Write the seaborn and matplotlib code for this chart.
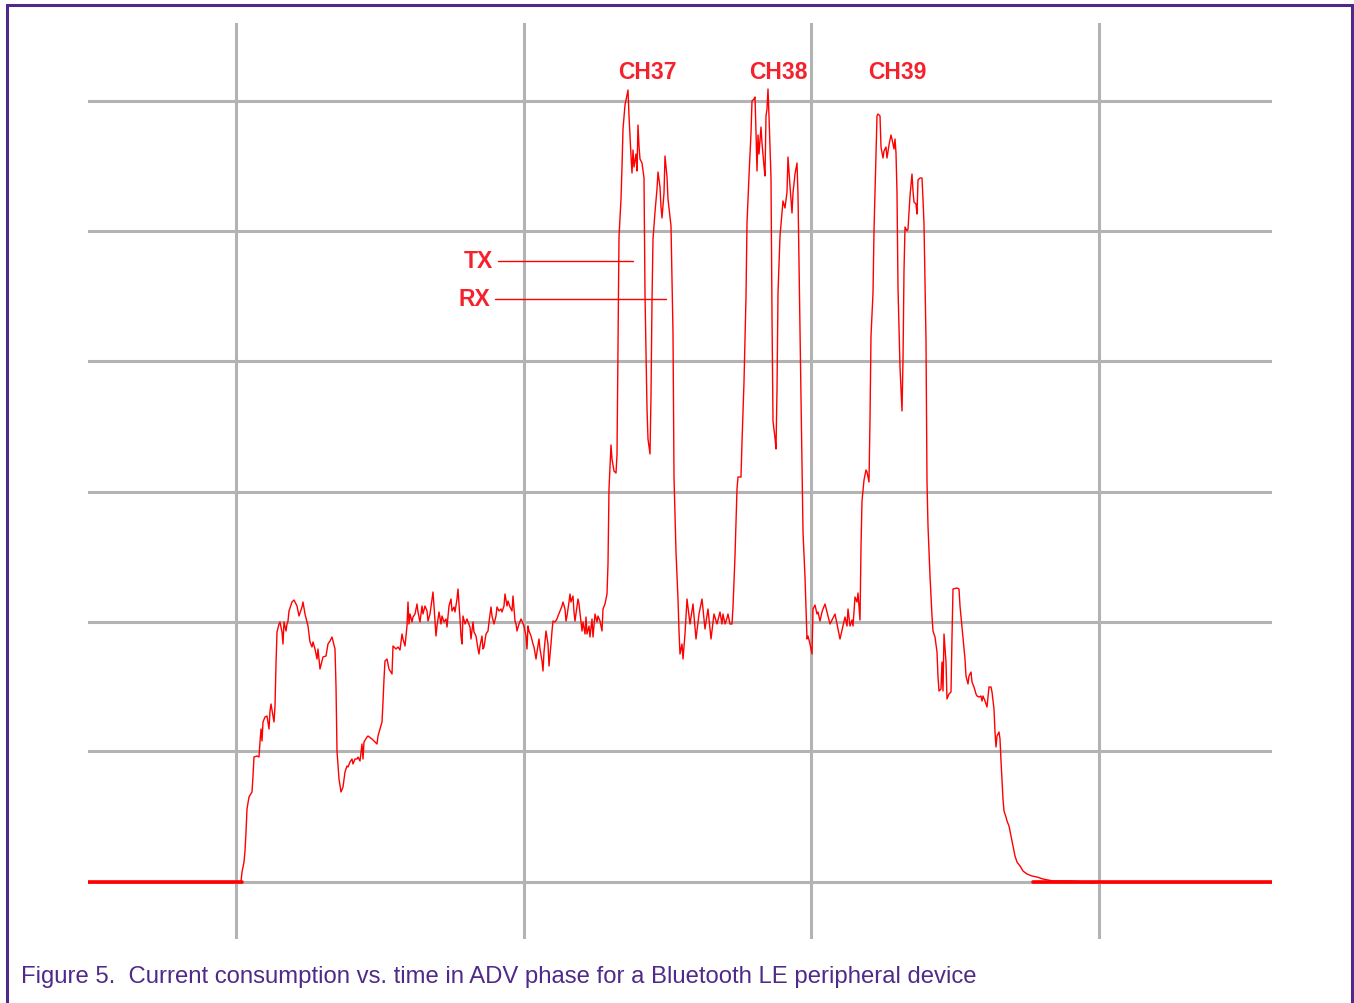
import matplotlib
matplotlib.use("Agg")
import matplotlib.pyplot as plt
import pandas as pd
import seaborn as sns
from matplotlib.patches import Rectangle

# time in samples, current in ADC counts (baseline = 0)
time_samples = [
    0, 153, 154, 156, 157, 158, 159, 161, 164, 165, 166, 169, 171, 172, 173, 174, 175, 177, 179, 181,
    182, 183, 185, 186, 187, 188, 189, 191, 192, 194, 195, 196, 198, 199, 200, 201, 204, 206, 209, 211,
    214, 215, 217, 219, 220, 222, 224, 225, 227, 229, 230, 232, 234, 235, 238, 240, 242, 244, 245, 247,
    248, 249, 251, 253, 255, 257, 259, 260, 262, 264, 265, 267, 269, 270, 272, 274, 275, 276, 279, 280,
    284, 287, 289, 290, 292, 294, 295, 296, 297, 299, 301, 304, 305, 308, 310, 312, 314, 315, 317, 319,
    320, 321, 322, 324, 325, 327, 329, 330, 332, 334, 335, 337, 339, 340, 342, 344, 345, 346, 348, 349,
    351, 353, 354, 356, 358, 359, 361, 363, 364, 366, 367, 369, 370, 371, 372, 373, 374, 375, 377, 379,
    380, 382, 383, 385, 386, 388, 390, 391, 392, 394, 395, 396, 398, 400, 401, 403, 404, 406, 408, 409,
    411, 413, 414, 416, 417, 419, 420, 422, 424, 425, 427, 428, 429, 431, 433, 434, 436, 438, 439, 440,
    441, 443, 445, 446, 448, 449, 451, 452, 454, 455, 456, 457, 458, 460, 461, 463, 464, 465, 467, 469,
    470, 472, 474, 475, 477, 478, 479, 481, 482, 483, 485, 486, 487, 489, 490, 491, 493, 494, 495, 497,
    498, 499, 501, 502, 504, 505, 507, 509, 510, 512, 514, 515, 517, 519, 520, 521, 523, 524, 526, 528,
    529, 530, 531, 533, 534, 535, 537, 539, 540, 541, 543, 544, 545, 546, 548, 549, 550, 551, 552, 554,
    556, 557, 559, 560, 562, 563, 564, 565, 567, 569, 570, 572, 573, 574, 576, 577, 579, 580, 583, 585,
    586, 588, 590, 591, 592, 594, 595, 597, 599, 602, 605, 608, 611, 614, 617, 620, 623, 626, 629, 632,
    634, 635, 637, 639, 640, 642, 644, 645, 647, 649, 650, 653, 654, 656, 658, 659, 661, 663, 664, 666,
    667, 668, 669, 670, 671, 673, 674, 676, 677, 678, 679, 680, 681, 683, 684, 685, 687, 688, 689, 690,
    692, 694, 695, 697, 699, 700, 702, 704, 705, 707, 709, 710, 712, 714, 715, 717, 719, 720, 722, 724,
    725, 727, 729, 730, 732, 734, 735, 737, 742, 747, 752, 757, 759, 760, 762, 764, 765, 767, 769, 770,
    772, 773, 774, 776, 778, 779, 781, 782, 783, 785, 786, 788, 789, 790, 792, 793, 795, 796, 798, 799,
    801, 803, 804, 806, 807, 808, 809, 810, 812, 814, 815, 816, 817, 819, 820, 822, 824, 825, 826, 828,
    829, 830, 832, 834, 835, 836, 838, 839, 840, 842, 844, 845, 847, 849, 850, 851, 853, 854, 855, 856,
    858, 859, 861, 863, 864, 865, 869, 871, 872, 874, 875, 877, 878, 880, 881, 883, 884, 886, 888, 889,
    891, 893, 894, 895, 897, 899, 900, 901, 903, 904, 906, 907, 908, 909, 911, 912, 913, 914, 915, 916,
    918, 919, 921, 923, 925, 927, 929, 932, 935, 939, 944, 949, 955, 965, 982, 999, 1004, 1009, 1184,
]
current_counts = [
    0, 0, 10, 20, 31, 50, 73, 85, 90, 106, 125, 126, 125, 140, 153, 141, 160, 165, 166, 153,
    171, 178, 166, 160, 176, 218, 250, 258, 260, 250, 238, 260, 251, 258, 261, 271, 280, 282, 276, 266,
    275, 280, 268, 260, 256, 240, 235, 240, 233, 223, 233, 213, 221, 225, 226, 238, 241, 245, 241, 233,
    196, 131, 103, 90, 95, 110, 116, 115, 120, 123, 118, 123, 123, 125, 121, 138, 123, 140, 145, 146,
    143, 140, 138, 146, 153, 160, 180, 203, 221, 223, 213, 208, 236, 233, 235, 232, 248, 243, 236, 256,
    280, 258, 268, 260, 265, 268, 278, 270, 260, 276, 268, 276, 271, 261, 268, 283, 290, 276, 246, 256,
    270, 258, 266, 260, 263, 255, 276, 283, 271, 275, 270, 283, 293, 278, 263, 246, 238, 266, 258, 263,
    260, 255, 243, 260, 250, 246, 233, 228, 236, 246, 233, 235, 248, 251, 260, 275, 266, 258, 266, 275,
    271, 273, 270, 276, 288, 276, 281, 275, 271, 286, 261, 258, 251, 258, 263, 261, 256, 246, 233, 256,
    251, 246, 238, 235, 223, 230, 243, 233, 221, 211, 230, 241, 251, 238, 216, 238, 251, 261, 260, 263,
    266, 271, 276, 280, 273, 261, 266, 280, 288, 280, 286, 270, 261, 276, 283, 278, 260, 251, 260, 248,
    265, 248, 256, 245, 263, 245, 268, 260, 266, 261, 251, 273, 278, 288, 318, 393, 437, 423, 411, 409,
    427, 534, 645, 683, 715, 753, 777, 787, 792, 766, 726, 709, 732, 715, 728, 711, 757, 736, 723, 719,
    704, 588, 473, 443, 428, 486, 581, 643, 670, 693, 710, 695, 675, 664, 689, 726, 705, 683, 656, 549,
    405, 330, 283, 251, 228, 238, 223, 248, 283, 258, 278, 243, 268, 283, 253, 273, 243, 268, 258, 270,
    258, 268, 258, 264, 268, 258, 258, 275, 326, 393, 405, 405, 440, 500, 585, 659, 706, 749, 781, 783,
    785, 750, 711, 747, 728, 755, 739, 716, 706, 766, 773, 793, 766, 704, 566, 461, 444, 433, 492, 589,
    646, 670, 681, 674, 690, 725, 696, 669, 689, 708, 719, 687, 553, 419, 350, 305, 243, 246, 238, 228,
    273, 277, 268, 270, 261, 270, 273, 278, 258, 268, 243, 265, 256, 273, 256, 262, 256, 285, 280, 289,
    262, 335, 381, 402, 412, 410, 400, 463, 546, 589, 651, 729, 766, 768, 766, 735, 724, 731, 735, 724,
    737, 747, 743, 733, 743, 729, 689, 594, 515, 471, 522, 611, 655, 651, 653, 686, 708, 691, 680, 678,
    668, 702, 704, 704, 683, 658, 542, 400, 356, 306, 266, 251, 245, 230, 205, 191, 193, 220, 191, 248,
    220, 183, 188, 190, 245, 293, 294, 293, 276, 255, 245, 223, 206, 198, 206, 210, 200, 195, 188, 186,
    185, 186, 181, 186, 181, 175, 185, 195, 195, 190, 173, 150, 135, 146, 150, 143, 121, 103, 83, 71,
    65, 61, 56, 46, 36, 26, 20, 16, 11, 8, 6, 5, 3, 1, 1, 0, -1, 0, 0,
]

# idle (sleep) stretches, drawn heavier like on the scope
idle_time = [[0, 154], [945, 1184]]
idle_current = [[0, 0], [0, 0]]

grid_time = [148, 436, 723, 1011]
grid_current = [0, 131, 260, 390, 521, 651, 781]

channel_labels = ["CH37", "CH38", "CH39"]
channel_time = [559, 690, 809]
channel_current = 811

marker_labels = ["TX", "RX"]
marker_current = [621, 583]
marker_text_time = [405, 402]
marker_line_start = [410, 407]
marker_line_end = [545, 578]

caption = "Figure 5.  Current consumption vs. time in ADV phase for a Bluetooth LE peripheral device"

RED = "#ff0000"
LABEL_RED = "#f5222d"
PURPLE = "#4f2a88"
GRID = "#b3b3b3"

sns.set_theme(style="white")
plt.rcParams["font.family"] = ["Liberation Sans", "DejaVu Sans"]

fig = plt.figure(figsize=(13.54, 10.04), dpi=100)
ax = fig.add_axes([88 / 1354, 64 / 1004, 1184 / 1354, 916 / 1004])

for t in grid_time:
    ax.axvline(t, color=GRID, lw=2.2, zorder=1)
for c in grid_current:
    ax.axhline(c, color=GRID, lw=2.2, zorder=1)

df = pd.DataFrame({"t": time_samples, "i": current_counts})
sns.lineplot(data=df, x="t", y="i", sort=False, estimator=None, color=RED, lw=1.0, ax=ax, zorder=3)
for xs, ys in zip(idle_time, idle_current):
    sns.lineplot(x=xs, y=ys, sort=False, estimator=None, color=RED, lw=2.6, ax=ax, zorder=3)

for label, t in zip(channel_labels, channel_time):
    ax.text(t, channel_current, label, color=LABEL_RED, fontsize=16.5, fontweight="bold",
            ha="center", va="center")

for label, c, tt, t0, t1 in zip(marker_labels, marker_current, marker_text_time,
                                marker_line_start, marker_line_end):
    ax.text(tt, c, label, color=LABEL_RED, fontsize=16.5, fontweight="bold", ha="right", va="center")
    ax.plot([t0, t1], [c, c], color=RED, lw=1.0, zorder=4)

ax.set_xlim(0, 1184)
ax.set_ylim(-57, 859)
ax.set_xticks([])
ax.set_yticks([])
ax.set_xlabel("")
ax.set_ylabel("")
sns.despine(ax=ax, left=True, bottom=True)

fig.text(21 / 1354, 1 - 977 / 1004, caption, color=PURPLE, fontsize=17.2, ha="left", va="center")

border = Rectangle((6.5 / 1354, -0.05), 1345.5 / 1354, 1 - 5.5 / 1004 + 0.05, transform=fig.transFigure,
                   fill=False, edgecolor=PURPLE, lw=2.2, clip_on=False)
fig.patches.append(border)

fig.savefig("out.png", dpi=100, facecolor="white")
